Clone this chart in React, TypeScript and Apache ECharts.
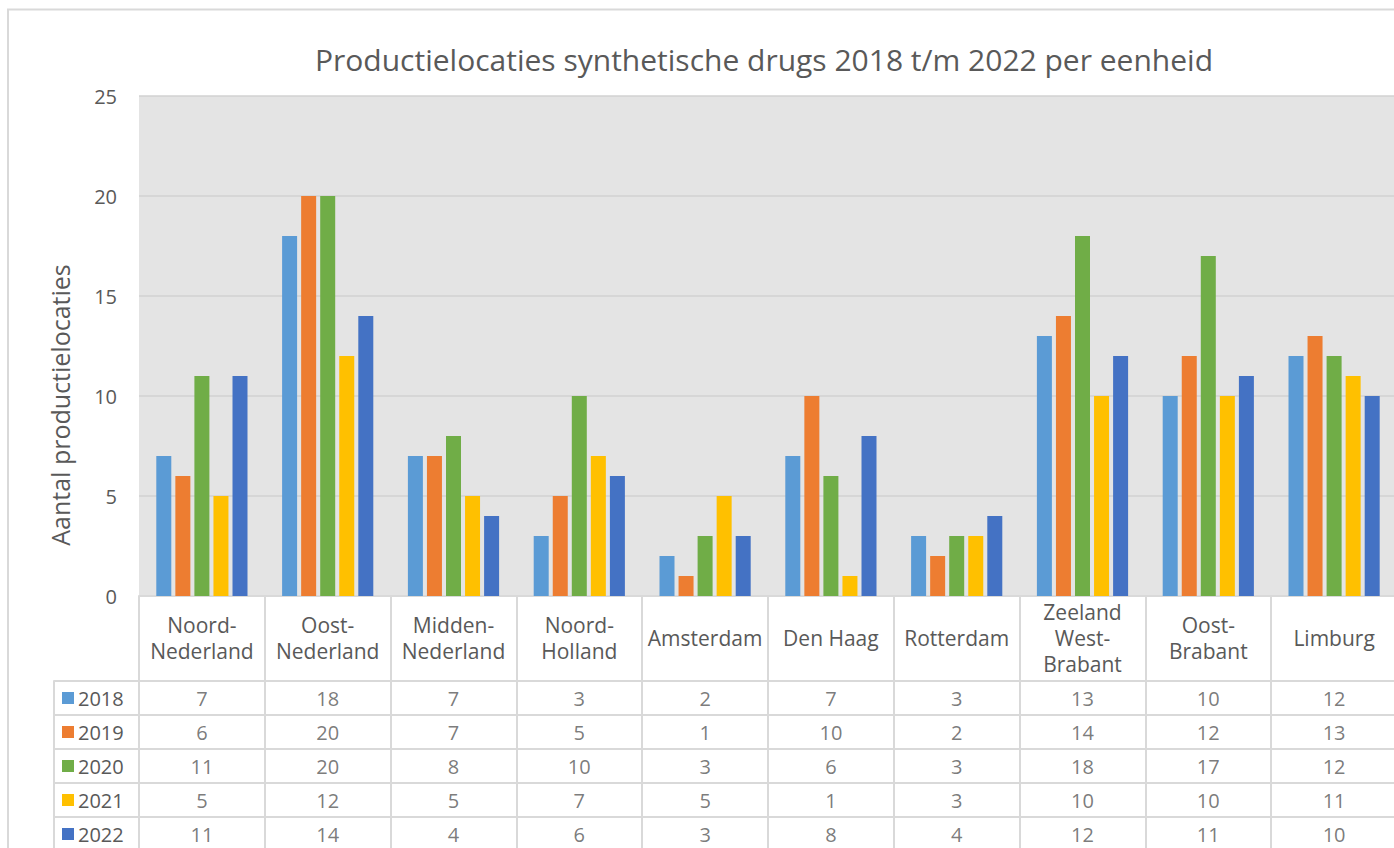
import React, { useEffect, useRef } from "react";
import * as echarts from "echarts";

const categories = [
  "Noord-\nNederland",
  "Oost-\nNederland",
  "Midden-\nNederland",
  "Noord-\nHolland",
  "Amsterdam",
  "Den Haag",
  "Rotterdam",
  "Zeeland\nWest-\nBrabant",
  "Oost-\nBrabant",
  "Limburg",
];
const years = ["2018", "2019", "2020", "2021", "2022"];
const colors = ["#5B9BD5", "#ED7D31", "#70AD47", "#FFC000", "#4472C4"];
const v2018 = [7, 18, 7, 3, 2, 7, 3, 13, 10, 12];
const v2019 = [6, 20, 7, 5, 1, 10, 2, 14, 12, 13];
const v2020 = [11, 20, 8, 10, 3, 6, 3, 18, 17, 12];
const v2021 = [5, 12, 5, 7, 5, 1, 3, 10, 10, 11];
const v2022 = [11, 14, 4, 6, 3, 8, 4, 12, 11, 10];
const seriesValues = [v2018, v2019, v2020, v2021, v2022];
const yTicks = { min: 0, max: 25, interval: 5 };

const TEXT = "#595959";
const BORDER = "#d9d9d9";
const FONT = "'Open Sans', Roboto, sans-serif";

export default function App() {
  const ref = useRef<HTMLDivElement>(null);
  useEffect(() => {
    if (!ref.current) return;
    const chart = echarts.init(ref.current, null, { renderer: "svg" });

    const rich: any = {};
    years.forEach((y, i) => {
      rich["k" + i] = { width: 12, height: 12, backgroundColor: colors[i] };
    });
    rich.t = { fontSize: 20, color: TEXT, fontFamily: FONT, padding: [0, 0, 0, 4] };

    const tableData: any[] = [];
    seriesValues.forEach((arr, i) => {
      arr.forEach((v, j) => tableData.push([j, i, v]));
    });

    const option: any = {
      animation: false,
      textStyle: { fontFamily: FONT },
      title: {
        text: "Productielocaties synthetische drugs 2018 t/m 2022 per eenheid",
        left: 759,
        textAlign: "center",
        top: 39,
        textStyle: { fontSize: 30, fontWeight: "normal", color: TEXT, fontFamily: FONT },
      },
      graphic: [
        {
          type: "rect",
          shape: { x: 8, y: 9.5, width: 1500, height: 1000 },
          style: { fill: "none", stroke: BORDER, lineWidth: 2 },
          silent: true,
          z: -10,
        },
        {
          type: "text",
          x: 60,
          y: 405,
          rotation: Math.PI / 2,
          silent: true,
          style: {
            text: "Aantal productielocaties",
            fontSize: 25,
            fontFamily: FONT,
            fill: TEXT,
            textAlign: "center",
            textVerticalAlign: "middle",
          },
        },
      ],
      grid: [
        {
          left: 139,
          top: 96,
          width: 1258,
          height: 500,
          show: true,
          backgroundColor: "#e4e4e4",
          borderWidth: 0,
        },
        {
          left: 139,
          top: 681,
          width: 1258,
          height: 170,
          show: false,
        },
      ],
      xAxis: [
        {
          type: "category",
          gridIndex: 0,
          data: categories,
          axisLine: { show: true, lineStyle: { color: BORDER, width: 2 } },
          axisTick: { show: true, length: 85, lineStyle: { color: BORDER, width: 2 } },
          axisLabel: {
            interval: 0,
            margin: 42,
            verticalAlign: "middle",
            fontSize: 21,
            lineHeight: 26,
            color: TEXT,
            fontFamily: FONT,
          },
          splitLine: { show: false },
        },
        {
          type: "category",
          gridIndex: 1,
          data: categories,
          position: "top",
          axisLine: { show: true, lineStyle: { color: BORDER, width: 2 } },
          axisTick: { show: false },
          axisLabel: { show: false },
          splitLine: { show: true, lineStyle: { color: BORDER, width: 2 } },
        },
      ],
      yAxis: [
        {
          type: "value",
          gridIndex: 0,
          min: yTicks.min,
          max: yTicks.max,
          interval: yTicks.interval,
          axisLine: { show: false },
          axisTick: { show: false },
          axisLabel: { fontSize: 20, color: TEXT, margin: 22, fontFamily: FONT },
          splitLine: { show: true, lineStyle: { color: "#d2d2d2", width: 1.5 } },
        },
        {
          type: "category",
          gridIndex: 1,
          data: years,
          inverse: true,
          axisLine: { show: true, lineStyle: { color: BORDER, width: 2 } },
          axisTick: { show: true, length: 85, lineStyle: { color: BORDER, width: 2 } },
          axisLabel: {
            margin: 77,
            align: "left",
            formatter: (val: string, idx: number) => `{k${idx}|}{t|${val}}`,
            rich,
          },
          splitLine: { show: true, lineStyle: { color: BORDER, width: 2 } },
        },
        {
          type: "category",
          gridIndex: 1,
          data: years,
          inverse: true,
          position: "left",
          offset: 85,
          axisLine: { show: true, lineStyle: { color: BORDER, width: 2 } },
          axisTick: { show: false },
          axisLabel: { show: false },
          splitLine: { show: false },
        },
      ],
      series: [
        ...years.map((y, i) => ({
          name: y,
          type: "bar",
          xAxisIndex: 0,
          yAxisIndex: 0,
          data: seriesValues[i],
          barWidth: 15,
          barGap: "27%",
          itemStyle: { color: colors[i] },
          silent: true,
        })),
        {
          type: "scatter",
          xAxisIndex: 1,
          yAxisIndex: 1,
          data: tableData,
          symbol: "rect",
          symbolSize: 1,
          itemStyle: { color: "rgba(0,0,0,0)" },
          silent: true,
          label: {
            show: true,
            position: "inside",
            formatter: (p: any) => String(p.value[2]),
            fontSize: 20,
            color: TEXT,
            fontFamily: FONT,
          },
        },
      ],
    };
    chart.setOption(option);
    return () => chart.dispose();
  }, []);

  return (
    <div
      ref={ref}
      style={{ position: "fixed", left: 0, top: 0, width: 1400, height: 860, background: "#fff" }}
    />
  );
}
